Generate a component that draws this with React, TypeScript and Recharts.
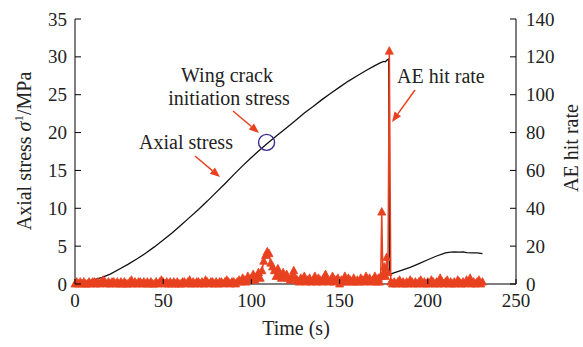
import { ComposedChart, Line, XAxis, YAxis, ReferenceDot } from 'recharts';

// axial stress curve (s, MPa)
const stressTime = [
  0, 5, 10, 15, 20, 25, 30, 35, 40, 45, 50, 55, 60, 65, 70, 75, 80, 85, 90, 95, 100, 105, 110,
  115, 120, 125, 130, 135, 140, 145, 150, 155, 160, 165, 170, 173, 175, 176, 177, 177.8,
  178.3, 180, 185, 190, 195, 200, 205, 210, 213, 215, 218, 220, 222, 225, 228, 231,
];
const stressValue = [
  0.1, 0.25, 0.5, 0.85, 1.3, 1.95, 2.6, 3.3, 4.05, 4.9, 5.8, 6.75, 7.75, 8.8, 9.85, 10.95, 12.1,
  13.25, 14.45, 15.6, 16.7, 17.75, 18.75, 19.7, 20.65, 21.6, 22.6, 23.45, 24.35, 25.2, 26.0, 26.8,
  27.5, 28.2, 28.85, 29.2, 29.4, 29.35, 29.6, 29.7, 1.2, 1.4, 1.8, 2.2, 2.7, 3.2, 3.7, 4.1, 4.2,
  4.25, 4.2, 4.25, 4.15, 4.1, 4.1, 4.0,
];

// AE hit rate, one reading per second from 0 s to 172 s
const aeBefore = [
  0, 1, 0, 1, 0, 1, 0, 0, 1, 0, 1, 1, 0, 1, 0, 1, 2, 1, 0, 1,
  0, 1, 1, 0, 1, 0, 1, 0, 1, 0, 0, 1, 2, 0, 1, 0, 1, 1, 0, 1,
  0, 1, 0, 1, 0, 0, 1, 0, 1, 2, 1, 0, 1, 0, 1, 0, 1, 0, 1, 0,
  0, 1, 1, 0, 1, 2, 0, 1, 0, 1, 1, 0, 1, 0, 2, 1, 0, 1, 1, 0,
  1, 0, 1, 1, 0, 1, 2, 1, 0, 1, 1, 0, 1, 2, 1, 3, 2, 1, 4, 2,
  3, 5, 2, 4, 6, 3, 7, 12, 15, 17, 16, 11, 9, 7, 4, 8, 5, 3, 6, 4,
  5, 3, 2, 4, 7, 3, 2, 1, 3, 2, 4, 1, 2, 3, 1, 2, 4, 1, 3, 2,
  1, 3, 5, 2, 1, 2, 4, 1, 2, 3, 0, 2, 1, 4, 1, 3, 2, 1, 3, 1,
  2, 1, 3, 2, 1, 4, 2, 3, 1, 2, 4, 1, 3,
];
// failure burst
const aeBurstTime = [172.6, 173.3, 173.9, 174.5, 175.3, 176.0, 176.7, 177.4, 178.2, 179.0];
const aeBurstValue = [1, 4, 38, 5, 9, 4, 14, 6, 123, 1];
// one reading per second from 180 s to 231 s
const aeAfter = [
  0, 1, 0, 1, 2, 0, 1, 0, 1, 0, 2, 1, 0, 1, 0, 1, 2, 0, 1, 0,
  1, 0, 2, 1, 0, 1, 0, 3, 1, 0, 1, 2, 0, 1, 0, 1, 0, 2, 1, 0,
  1, 0, 2, 1, 3, 0, 1, 0, 1, 2, 0, 1,
];

const timeTicks = [0, 50, 100, 150, 200, 250];
const stressTicks = [0, 5, 10, 15, 20, 25, 30, 35];
const aeTicks = [0, 20, 40, 60, 80, 100, 120, 140];

const stressData = stressTime.map((t, i) => ({ t, v: stressValue[i] }));
const aeData = [
  ...aeBefore.map((v, i) => ({ t: i, v })),
  ...aeBurstTime.map((t, i) => ({ t, v: aeBurstValue[i] })),
  ...aeAfter.map((v, i) => ({ t: 180 + i, v })),
];

const RED = '#e8411f';
const FONT = '"Liberation Serif", "Times New Roman", serif';

const LeftTick = (props: any) => (
  <g>
    <line x1={props.x} x2={props.x + 6} y1={props.y} y2={props.y} stroke="#000" strokeWidth={1} />
    <text x={props.x - 8} y={props.y} dy={6.5} textAnchor="end" fontSize={19} fontFamily={FONT} fill="#222">
      {props.payload.value}
    </text>
  </g>
);

const RightTick = (props: any) => (
  <g>
    <line x1={props.x} x2={props.x - 6} y1={props.y} y2={props.y} stroke="#000" strokeWidth={1} />
    <text x={props.x + 10} y={props.y} dy={6.5} textAnchor="start" fontSize={19} fontFamily={FONT} fill="#222">
      {props.payload.value}
    </text>
  </g>
);

const BottomTick = (props: any) => (
  <g>
    <line x1={props.x} x2={props.x} y1={props.y} y2={props.y - 5} stroke="#000" strokeWidth={1} />
    <text x={props.x} y={props.y + 23} textAnchor="middle" fontSize={19} fontFamily={FONT} fill="#222">
      {props.payload.value}
    </text>
  </g>
);

const Triangle = (props: any) => {
  const { cx, cy, index } = props;
  if (cx == null || cy == null) return <g key={`n${index}`} />;
  return (
    <polygon
      key={`d${index}`}
      points={`${cx},${cy - 4.5} ${cx - 4},${cy + 3} ${cx + 4},${cy + 3}`}
      fill={RED}
      stroke={RED}
      strokeWidth={0.8}
    />
  );
};

const Arrow = ({ x1, y1, x2, y2 }: { x1: number; y1: number; y2: number; x2: number }) => {
  const a = Math.atan2(y2 - y1, x2 - x1);
  const len = 10;
  const w = 4;
  const bx = x2 - len * Math.cos(a);
  const by = y2 - len * Math.sin(a);
  const px = -Math.sin(a) * w;
  const py = Math.cos(a) * w;
  return (
    <g>
      <line x1={x1} y1={y1} x2={bx} y2={by} stroke={RED} strokeWidth={1.5} />
      <polygon points={`${x2},${y2} ${bx + px},${by + py} ${bx - px},${by - py}`} fill={RED} />
    </g>
  );
};

export default function App() {
  return (
    <div style={{ position: 'absolute', left: 0, top: 0, width: 583, height: 347, background: '#fff' }}>
      <ComposedChart width={583} height={347} margin={{ top: 19, right: 0, bottom: 0, left: 0 }}>
        <XAxis
          type="number"
          dataKey="t"
          domain={[0, 250]}
          ticks={timeTicks}
          height={63}
          axisLine={{ stroke: '#000', strokeWidth: 1 }}
          tickLine={false}
          tickSize={0}
          tickMargin={0}
          tick={<BottomTick />}
          interval={0}
        />
        <YAxis
          yAxisId="s"
          domain={[0, 35]}
          ticks={stressTicks}
          width={75}
          axisLine={{ stroke: '#000', strokeWidth: 1 }}
          tickLine={false}
          tickSize={0}
          tickMargin={0}
          tick={<LeftTick />}
          interval={0}
        />
        <YAxis
          yAxisId="ae"
          orientation="right"
          domain={[0, 140]}
          ticks={aeTicks}
          width={67}
          axisLine={{ stroke: '#000', strokeWidth: 1 }}
          tickLine={false}
          tickSize={0}
          tickMargin={0}
          tick={<RightTick />}
          interval={0}
        />
        <Line
          yAxisId="s"
          data={stressData}
          dataKey="v"
          type="linear"
          stroke="#111"
          strokeWidth={1.3}
          dot={false}
          isAnimationActive={false}
        />
        <Line
          yAxisId="ae"
          data={aeData}
          dataKey="v"
          type="linear"
          stroke={RED}
          strokeWidth={1.5}
          dot={Triangle}
          activeDot={false}
          isAnimationActive={false}
        />
        <ReferenceDot yAxisId="s" x={108.6} y={18.7} r={8} fill="none" stroke="#3b2d8f" strokeWidth={1.4} />
      </ComposedChart>
      <svg
        width={583}
        height={347}
        style={{ position: 'absolute', left: 0, top: 0, pointerEvents: 'none' }}
        fontFamily={FONT}
      >
        <text x={227} y={82} textAnchor="middle" fontSize={20} fill="#222">Wing crack</text>
        <text x={229} y={105} textAnchor="middle" fontSize={20} fill="#222">initiation stress</text>
        <text x={186} y={149} textAnchor="middle" fontSize={20} fill="#222">Axial stress</text>
        <text x={397} y={83} textAnchor="start" fontSize={20} fill="#222">AE hit rate</text>
        <Arrow x1={233} y1={111} x2={259} y2={133} />
        <Arrow x1={195} y1={156} x2={220} y2={177} />
        <Arrow x1={415} y1={90} x2={392} y2={122} />
        <text x={296} y={335} textAnchor="middle" fontSize={20} fill="#222">Time (s)</text>
        <text transform="translate(31,151) rotate(-90)" textAnchor="middle" fontSize={20} fill="#222">
          Axial stress <tspan fontStyle="italic">σ</tspan>
          <tspan dy={-8} fontSize={13}>1</tspan>
          <tspan dy={8}>/MPa</tspan>
        </text>
        <text transform="translate(578,148) rotate(-90)" textAnchor="middle" fontSize={20} fill="#222">
          AE hit rate
        </text>
      </svg>
    </div>
  );
}
